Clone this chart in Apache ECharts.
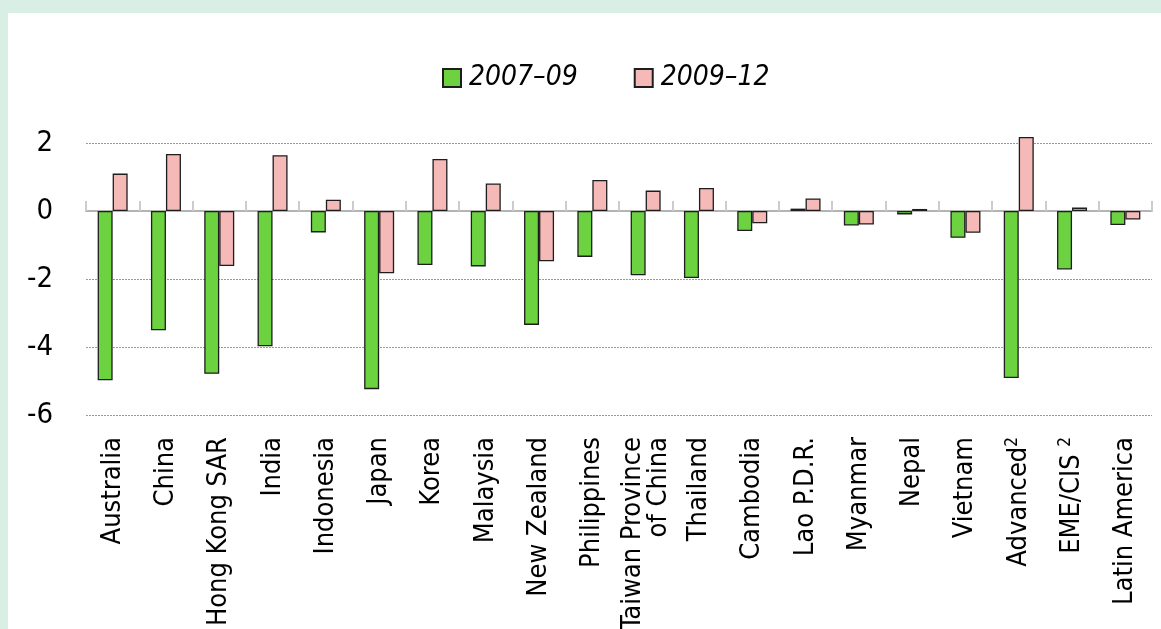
<!DOCTYPE html>
<html>
<head>
<meta charset="utf-8">
<script src="https://cdn.jsdelivr.net/npm/echarts@6/dist/echarts.min.js"></script>
<style>
  html, body { margin: 0; padding: 0; background: #d9efe6; }
  #chart { position: absolute; left: 8px; top: 13px; width: 1153px; height: 616px; background: #ffffff; }
</style>
</head>
<body>
<div id="chart"></div>
<script>
var categories = ['Australia', 'China', 'Hong Kong SAR', 'India', 'Indonesia', 'Japan', 'Korea',
    'Malaysia', 'New Zealand', 'Philippines', 'Taiwan Province\nof China', 'Thailand', 'Cambodia',
    'Lao P.D.R.', 'Myanmar', 'Nepal', 'Vietnam', 'Advanced{sup|2}', 'EME/CIS {sup|2}', 'Latin America'];
var seriesNames = ['2007\u201309', '2009\u201312'];
var values0709 = [-4.98, -3.51, -4.79, -3.98, -0.63, -5.24, -1.59, -1.63, -3.35, -1.35,
    -1.89, -1.97, -0.59, 0.07, -0.43, -0.10, -0.79, -4.91, -1.72, -0.41];
var values0912 = [1.10, 1.68, -1.62, 1.64, 0.33, -1.83, 1.53, 0.81, -1.48, 0.91,
    0.60, 0.68, -0.36, 0.37, -0.40, 0.06, -0.64, 2.18, 0.10, -0.25];
var yTicks = { min: -6, max: 2, interval: 2 };

var FONT = '"Liberation Sans Narrow", "DejaVu Sans Condensed", sans-serif';

var chart = echarts.init(document.getElementById('chart'));

var option = {
    animation: false,
    legend: {
        left: 429,
        top: 46,
        icon: 'rect',
        itemWidth: 18,
        itemHeight: 18,
        itemGap: 56,
        textStyle: {
            fontFamily: FONT,
            fontSize: 28,
            fontStyle: 'italic',
            color: '#000',
            padding: [0, 0, 0, 3]
        },
        data: seriesNames
    },
    grid: {
        left: 78,
        right: 9,
        top: 130,
        bottom: 214,
        outerBoundsMode: 'none'
    },
    xAxis: [
        {
            type: 'category',
            data: categories,
            position: 'bottom',
            axisLine: { show: false, onZero: false },
            axisTick: { show: false },
            axisLabel: {
                interval: 0,
                rotate: 90,
                margin: 22,
                fontFamily: FONT,
                fontSize: 27,
                color: '#000',
                lineHeight: 26,
                rich: {
                    sup: {
                        fontFamily: FONT,
                        fontSize: 17,
                        color: '#000',
                        verticalAlign: 'top',
                        lineHeight: 30
                    }
                }
            }
        },
        {
            type: 'category',
            data: categories,
            position: 'bottom',
            axisLine: { show: true, onZero: true, lineStyle: { color: '#b4b4b4', width: 2 } },
            axisTick: { show: true, interval: 0, inside: true, length: 10, lineStyle: { color: '#cccccc', width: 2 } },
            axisLabel: { show: false, interval: 0 }
        }
    ],
    yAxis: {
        type: 'value',
        min: yTicks.min,
        max: yTicks.max,
        interval: yTicks.interval,
        axisLine: { show: false },
        axisTick: { show: false },
        axisLabel: {
            margin: 33,
            fontFamily: FONT,
            fontSize: 29,
            color: '#000'
        },
        splitLine: {
            lineStyle: { color: '#9a9a9a', type: [2, 1], width: 1 }
        }
    },
    series: [
        {
            name: seriesNames[0],
            type: 'bar',
            xAxisIndex: 0,
            data: values0709,
            barWidth: 15,
            barGap: '0%',
            clip: false,
            itemStyle: { color: '#6dd240', borderColor: '#1e1e1e', borderWidth: 1.3 }
        },
        {
            name: seriesNames[1],
            type: 'bar',
            xAxisIndex: 0,
            data: values0912,
            barWidth: 15,
            barGap: '0%',
            clip: false,
            itemStyle: { color: '#f5b9b8', borderColor: '#1e1e1e', borderWidth: 1.3 }
        }
    ]
};

chart.setOption(option);
</script>
</body>
</html>
